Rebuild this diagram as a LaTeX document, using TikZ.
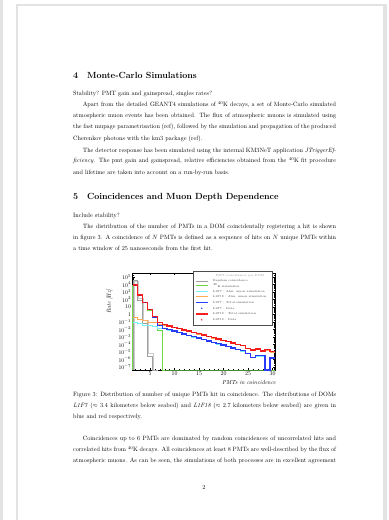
\documentclass[tikz,border=0pt]{standalone}
\definecolor{hred}{RGB}{250,30,30}
\definecolor{hblue}{RGB}{40,60,250}
\definecolor{hcyan}{RGB}{120,240,250}
\definecolor{horange}{RGB}{250,170,90}
\definecolor{hgreen}{RGB}{110,215,70}
\definecolor{hgray}{RGB}{160,160,160}
\tikzset{
  txt/.style={anchor=base west, inner sep=0pt, font=\fontsize{10}{12}\selectfont},
  head/.style={anchor=base west, inner sep=0pt, font=\fontsize{14.4}{17}\selectfont\bfseries},
  axisframe/.style={draw=black, line width=1.2pt},
  tick/.style={draw=black, line width=0.6pt},
  ylab/.style={anchor=east, inner sep=0pt, xshift=-3pt, font=\fontsize{9.5}{10}\selectfont},
  xlab/.style={anchor=north, inner sep=0pt, yshift=-2pt, font=\fontsize{9.5}{10}\selectfont},
  atitle/.style={inner sep=0pt, font=\fontsize{9.5}{10}\selectfont\itshape},
  grayh/.style={draw=hgray, line width=1.0pt},
  grayh2/.style={draw=hgray!55, line width=0.8pt},
  greenh/.style={draw=hgreen, line width=1.6pt},
  cyanh/.style={draw=hcyan, line width=1.6pt},
  orangeh/.style={draw=horange, line width=1.6pt},
  blueh/.style={draw=hblue, line width=2.2pt},
  redh/.style={draw=hred, line width=2.2pt},
  legbox/.style={draw=black!70, fill=white, line width=0.6pt},
  leg/.style={anchor=west, inner sep=0pt, text=black!75, font=\fontsize{4.6}{5}\selectfont},
}
\newcommand\JL[4]{\node[txt] (#1) at (#2,#3) {\makebox[\dimexpr(336pt-#2pt)*1618/1000\relax][s]{#4}};}
\newcommand\NL[4]{\node[txt] (#1) at (#2,#3) {#4};}
\begin{document}
\begin{tikzpicture}[x=1.618pt,y=-1.618pt]
\useasboundingbox (0,0) rectangle (388,520);
\fill[white] (0,0) rectangle (388,520);
\fill[gray!22] (0,0) rectangle (3,520);
\fill[gray!22] (16,4) rectangle (387,530);
\fill[white] (18,6) rectangle (383,530);

% ---------------- text ----------------
\node[head] (h4) at (73,78.5) {4\quad Monte-Carlo Simulations};
\NL{l1}{73}{95.8}{Stability? PMT gain and gainspread, singles rates?}
\JL{l2}{82.7}{106.8}{Apart from the detailed GEANT4 simulations of $^{40}$K decays, a set of Monte-Carlo simulated}
\JL{l3}{73}{117.6}{atmospheric muon events has been obtained. The flux of atmospheric muons is simulated using}
\JL{l4}{73}{129}{the fast mupage parametrisation (ref), followed by the simulation and propagation of the produced}
\NL{l5}{73}{140.6}{Cherenkov photons with the km3 package (ref).}
\JL{l6}{82.7}{152.2}{The detector response has been simulated using the internal KM3NeT application \textit{JTriggerEf-}}
\JL{l7}{73}{162.8}{\textit{ficiency}. The pmt gain and gainspread, relative efficiencies obtained from the $^{40}$K fit procedure}
\NL{l8}{73}{174}{and lifetime are taken into account on a run-by-run basis.}
\node[head] (h5) at (73,199.8) {5\quad Coincidences and Muon Depth Dependence};
\NL{l9}{73}{217.4}{Include stability?}
\JL{l10}{82.7}{228.8}{The distribution of the number of PMTs in a DOM coincidentally registering a hit is shown}
\JL{l11}{73}{239.6}{in figure 3. A coincidence of $N$ PMTs is defined as a sequence of hits on $N$ unique PMTs within}
\NL{l12}{73}{250.4}{a time window of 25 nanoseconds from the first hit.}
\JL{c1}{73}{396.8}{Figure 3: Distribution of number of unique PMTs hit in coincidence. The distributions of DOMs}
\JL{c2}{73}{407.6}{\textit{L1F7} ($\approx$ 3.4 kilometers below seabed) and \textit{L1F18} ($\approx$ 2.7 kilometers below seabed) are given in}
\NL{c3}{73}{418.6}{blue and red respectively.}
\JL{p1}{82.7}{440.1}{Coincidences up to 6 PMTs are dominated by random coincidences of uncorrelated hits and}
\JL{p2}{73}{451.3}{correlated hits from $^{40}$K decays. All coincidences at least 8 PMTs are well-described by the flux of}
\JL{p3}{73}{462.4}{atmospheric muons. As can be seen, the simulations of both processes are in excellent agreement}
\node[txt, anchor=base] (pg) at (204,489.5) {2};

% ---------------- plot ----------------
\node[atitle, rotate=90] (ytitle) at (109.5,301.5) {Rate [Hz]};
\node[atitle, anchor=base east] (xtitle) at (276,384) {PMTs in coincidence};
\begin{scope}[shift={(125.5,314.5)},x=7.928pt,y=12.135pt]
  \draw[axisframe] (1.5,-7.4) rectangle (30.5,5.53);
  \foreach \d in {-7,...,5} {
    \draw[tick] (1.5,\d) -- ++(0.5,0);
    \draw[tick] (30.5,\d) -- ++(-0.5,0);
  }
  \begin{scope}
    \clip (1.5,-7.4) rectangle (30.5,5.53);
    \foreach \d in {-8,...,5} \foreach \k in {2,...,9} {
      \draw[tick] (1.5,{\d+log10(\k)}) -- ++(0.25,0);
      \draw[tick] (30.5,{\d+log10(\k)}) -- ++(-0.25,0);
    }
  \end{scope}
  \foreach \n in {2,...,30} {
    \draw[tick] (\n,-7.4) -- ++(0,0.15);
    \draw[tick] (\n,5.53) -- ++(0,-0.15);
  }
  \foreach \n in {5,10,...,30} {
    \draw[tick] (\n,-7.4) -- ++(0,0.3);
    \draw[tick] (\n,5.53) -- ++(0,-0.3);
    \node[xlab] (xl\n) at (\n,-7.4) {\n};
  }
  \foreach \d/\l in {5/10^{5},4/10^{4},3/10^{3},2/10^{2},1/10,0/1,-1/10^{-1},-2/10^{-2},-3/10^{-3},-4/10^{-4},-5/10^{-5},-6/10^{-6},-7/10^{-7}}
    \node[ylab] (yl\d) at (1.5,\d) {$\l$};

  % histograms
  \draw[grayh2] (1.7,-7.4) \foreach \v [count=\i from 2] in {4.4,2.2,-0.8,-5.2,-7.4} { -- (\i-0.3,\v) -- (\i+0.7,\v) };
  \draw[grayh] (1.5,-7.4) \foreach \v [count=\i from 2] in {4.6,1.95,-1.13,-5.53,-7.4} { -- (\i-0.5,\v) -- (\i+0.5,\v) };
  \draw[greenh] (1.5,-7.4) \foreach \v [count=\i from 2] in {3.9,2.5,1.55,0.6,-0.4,-2.07,-7.4,-7.4,-7.4,-7.4,-7.4,-7.4,-7.4,-7.4,-7.4,-7.4,-7.4,-7.4,-7.4,-7.4,-7.4,-7.4,-7.4,-7.4,-7.4,-7.4,-7.4,-7.4,-7.4} { -- (\i-0.5,\v) -- (\i+0.5,\v) };
  \draw[cyanh] (1.5,-1.1) \foreach \v [count=\i from 2] in {-1.1,-1.25,-1.4,-1.53,-1.65,-1.8,-1.9,-2.08,-2.27,-2.46,-2.65,-2.83,-3.01,-3.2,-3.39,-3.58,-3.76,-3.94,-4.13,-4.32,-4.5,-4.69,-4.88,-5.25,-5.75,-5.55,-5.55,-7.4,-5.85} { -- (\i-0.5,\v) -- (\i+0.5,\v) };
  \draw[orangeh] (1.5,-0.45) \foreach \v [count=\i from 2] in {-0.45,-0.65,-0.82,-1.0,-1.13,-1.27,-1.4,-1.57,-1.75,-1.92,-2.1,-2.27,-2.44,-2.62,-2.79,-2.97,-3.14,-3.31,-3.49,-3.66,-3.84,-4.01,-4.18,-4.55,-4.8,-4.65,-4.9,-4.75,-5.0} { -- (\i-0.5,\v) -- (\i+0.5,\v) };
  \draw[blueh] (1.5,3.9) \foreach \v [count=\i from 2] in {3.9,2.55,1.6,0.65,-0.35,-1.5,-1.85,-2.03,-2.22,-2.41,-2.6,-2.78,-2.96,-3.15,-3.34,-3.53,-3.71,-3.89,-4.08,-4.27,-4.45,-4.64,-4.83,-5.2,-5.7,-5.5,-5.5,-7.4,-5.8} { -- (\i-0.5,\v) -- (\i+0.5,\v) };
  \draw[redh] (1.5,3.93) \foreach \v [count=\i from 2] in {3.93,2.6,1.63,0.69,-0.29,-1.1,-1.35,-1.52,-1.70,-1.87,-2.05,-2.22,-2.39,-2.57,-2.74,-2.92,-3.09,-3.26,-3.44,-3.61,-3.79,-3.96,-4.13,-4.5,-4.75,-4.6,-4.85,-4.7,-4.95} { -- (\i-0.5,\v) -- (\i+0.5,\v) };
  % data markers
  \foreach \v [count=\i from 2] in {3.9,2.55,1.6,0.65,-0.35,-1.5,-1.85,-2.03,-2.22,-2.41,-2.6,-2.78,-2.96,-3.15,-3.34,-3.53,-3.71,-3.89,-4.08,-4.27,-4.45,-4.64,-4.83,-5.2,-5.7,-5.5,-5.5}
    \fill[hblue!70!black] (\i,\v) circle[radius=0.8pt];
  \foreach \v [count=\i from 2] in {3.93,2.6,1.63,0.69,-0.29,-1.1,-1.35,-1.52,-1.70,-1.87,-2.05,-2.22,-2.39,-2.57,-2.74,-2.92,-3.09,-3.26,-3.44,-3.61,-3.79,-3.96,-4.13,-4.5,-4.75,-4.6,-4.85,-4.7,-4.95}
    \fill[hred!60!black] (\i,\v) circle[radius=0.8pt];
\end{scope}

% legend
\draw[legbox] (193,271.5) rectangle (272,325);
\node[leg, anchor=center, text=black!45] (lt) at (240,275.8) {PMT coincidences per DOM};
\coordinate (a1) at (195.5,281);   \coordinate (b1) at (208,281);
\coordinate (a2) at (195.5,285.6); \coordinate (b2) at (208,285.6);
\coordinate (a3) at (195.5,291.4); \coordinate (b3) at (208,291.4);
\coordinate (a4) at (195.5,296.6); \coordinate (b4) at (208,296.6);
\coordinate (a5) at (195.5,302.5); \coordinate (b5) at (208,302.5);
\coordinate (m6) at (201.7,308.3);
\coordinate (a7) at (195.5,314);   \coordinate (b7) at (208,314);
\coordinate (m8) at (201.7,319.8);
\draw[grayh] (a1) -- (b1);
\draw[greenh] (a2) -- (b2);
\draw[cyanh] (a3) -- (b3);
\draw[orangeh] (a4) -- (b4);
\draw[blueh] (a5) -- (b5);
\fill[hblue] (m6) circle[radius=1.3pt];
\draw[redh] (a7) -- (b7);
\fill[hred] (m8) circle[radius=1.3pt];
\node[leg] (t1) at (213,281) {Random coincidence};
\node[leg] (t2) at (213,285.6) {$^{40}$K simulation};
\node[leg] (t3) at (213,291.4) {L1F7 : Atm. muon simulation};
\node[leg] (t4) at (213,296.6) {L1F18 : Atm. muon simulation};
\node[leg] (t5) at (213,302.5) {L1F7 : Total simulation};
\node[leg] (t6) at (213,308.3) {L1F7 : Data};
\node[leg] (t7) at (213,314) {L1F18 : Total simulation};
\node[leg] (t8) at (213,319.8) {L1F18 : Data};
\end{tikzpicture}
\end{document}
